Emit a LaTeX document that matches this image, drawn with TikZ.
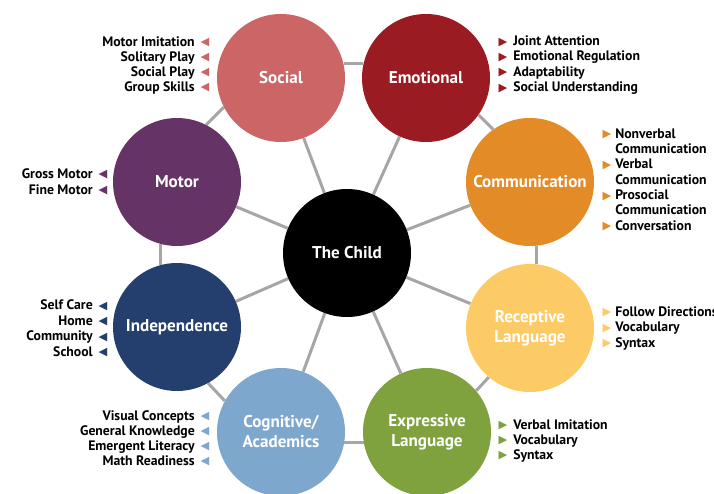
\documentclass[tikz,border=0pt]{standalone}
\usepackage{fontspec}
\setmainfont{PT Sans}
\newfontfamily\symfont{DejaVu Sans}
\usetikzlibrary{backgrounds}

\definecolor{socialcol}{RGB}{204,102,102}
\definecolor{emotioncol}{RGB}{155,27,34}
\definecolor{commcol}{RGB}{227,139,39}
\definecolor{recepcol}{RGB}{253,203,102}
\definecolor{exprcol}{RGB}{127,162,62}
\definecolor{cogcol}{RGB}{126,167,205}
\definecolor{indepcol}{RGB}{36,63,110}
\definecolor{motorcol}{RGB}{102,51,102}
\definecolor{linkgray}{RGB}{166,166,166}

\newcommand{\righttri}{{\symfont\char"25B6}}
\newcommand{\lefttri}{{\symfont\char"25C0}}

\tikzset{
  hub/.style={circle,fill=#1,text=white,minimum size=96pt,inner sep=0pt,
    align=center,font=\bfseries\fontsize{12.8}{15}\selectfont},
  item/.style={inner sep=0pt,text height=7pt,text depth=2pt,
    font=\bfseries\fontsize{10.3}{11.5}\selectfont},
  tri/.style={text=#1,inner sep=0pt,font=\fontsize{8.5}{8.5}\selectfont},
  link/.style={draw=linkgray,line width=2.25pt}
}

\begin{document}
\begin{tikzpicture}[x=0.75pt,y=-0.75pt]
  \useasboundingbox (0,0) rectangle (714,493);

  % the circles
  \node[hub=black] (child) at (347,253) {The Child};
  \node[hub=socialcol] (social) at (281,78) {Social};
  \node[hub=emotioncol] (emotional) at (426,78) {Emotional};
  \node[hub=commcol] (comm) at (530,182) {Communication};
  \node[hub=recepcol] (recep) at (530,328) {Receptive\\Language};
  \node[hub=exprcol] (expr) at (427,432) {Expressive\\Language};
  \node[hub=cogcol] (cog) at (281,432) {Cognitive/\\Academics};
  \node[hub=indepcol] (indep) at (177,327) {Independence};
  \node[hub=motorcol] (motor) at (177,182) {Motor};

  % spokes and ring
  \begin{scope}[on background layer]
    \foreach \n in {social,emotional,comm,recep,expr,cog,indep,motor}
      \path[link] (child) -- (\n);
    \path[link] (social.13) -- (emotional.167);
    \path[link] (emotional.-35) -- (comm.125);
    \path[link] (comm.-84) -- (recep.84);
    \path[link] (recep.-130) -- (expr.40);
    \path[link] (expr.189) -- (cog.-9);
    \path[link] (cog.151) -- (indep.-61);
    \path[link] (indep.105) -- (motor.-105);
    \path[link] (motor.63) -- (social.207);
  \end{scope}

  % lists on the left
  \foreach \txt [count=\i] in {Motor Imitation,Solitary Play,Social Play,Group Skills} {
    \node[item,anchor=east] (soc\i) at (195,28+15*\i) {\txt};
    \node[tri=socialcol] (soctri\i) at (205,28+15*\i) {\lefttri};
  }
  \foreach \txt [count=\i] in {Gross Motor,Fine Motor} {
    \node[item,anchor=east] (mot\i) at (93,159+16*\i) {\txt};
    \node[tri=motorcol] (mottri\i) at (103,159+16*\i) {\lefttri};
  }
  \foreach \txt [count=\i] in {Self Care,Home,Community,School} {
    \node[item,anchor=east] (ind\i) at (93,291+15.5*\i) {\txt};
    \node[tri=indepcol] (indtri\i) at (103,291+15.5*\i) {\lefttri};
  }
  \foreach \txt [count=\i] in {Visual Concepts,General Knowledge,Emergent Literacy,Math Readiness} {
    \node[item,anchor=east] (cog\i) at (195,402+15*\i) {\txt};
    \node[tri=cogcol] (cogtri\i) at (205,402+15*\i) {\lefttri};
  }

  % lists on the right
  \foreach \txt [count=\i] in {Joint Attention,Emotional Regulation,Adaptability,Social Understanding} {
    \node[item,anchor=west] (emo\i) at (513,27+15.3*\i) {\txt};
    \node[tri=emotioncol] (emotri\i) at (503,27+15.3*\i) {\righttri};
  }
  \foreach \txt [count=\i] in {Nonverbal,Communication,Verbal,Communication,Prosocial,Communication,Conversation} {
    \node[item,anchor=west] (com\i) at (615,119.7+15.3*\i) {\txt};
  }
  \foreach \i in {1,3,5,7}
    \node[tri=commcol] (comtri\i) at (607,119.7+15.3*\i) {\righttri};
  \foreach \txt [count=\i] in {Follow Directions,Vocabulary,Syntax} {
    \node[item,anchor=west] (rec\i) at (615,297.5+15.5*\i) {\txt};
    \node[tri=recepcol] (rectri\i) at (607,297.5+15.5*\i) {\righttri};
  }
  \foreach \txt [count=\i] in {Verbal Imitation,Vocabulary,Syntax} {
    \node[item,anchor=west] (exp\i) at (513,411+15*\i) {\txt};
    \node[tri=exprcol] (exptri\i) at (503,411+15*\i) {\righttri};
  }
\end{tikzpicture}
\end{document}
